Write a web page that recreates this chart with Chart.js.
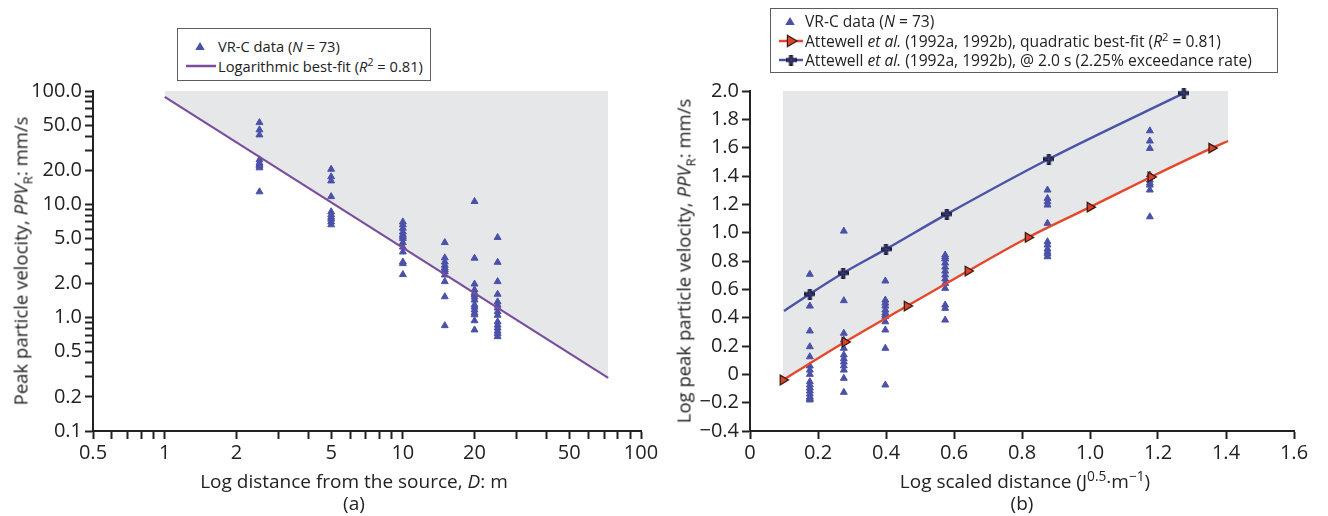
<!DOCTYPE html>
<html>
<head>
<meta charset="utf-8">
<script src="https://cdn.jsdelivr.net/npm/chart.js@4.4.1/dist/chart.umd.min.js"></script>
<style>
  html, body { margin: 0; padding: 0; background: #fff; }
  #wrap { position: relative; width: 1328px; height: 516px; font-family: 'Open Sans', sans-serif; color: #222; }
  .pane { position: absolute; top: 0; width: 664px; height: 516px; }
  .txt { position: absolute; white-space: nowrap; transform: translate(-50%, -50%); font-size: 19px; }
  .ytitle { transform: translate(-50%, -50%) rotate(-90deg); font-size: 18.5px; }
  .legend { position: absolute; box-sizing: border-box; border: 1.5px solid #5c5c5c; background: #fff; }
  .row { position: absolute; white-space: nowrap; transform: translateY(-50%); }
  .mk { position: absolute; }
  sub, sup { font-size: 0.72em; line-height: 0; }
</style>
</head>
<body>
<div id="wrap">
  <div class="pane" style="left:0"><canvas id="chartA"></canvas></div>
  <div class="pane" style="left:664px"><canvas id="chartB"></canvas></div>

  <div class="txt ytitle" style="left:20px; top:261px">Peak particle velocity, <i>PPV</i><sub>R</sub>: mm/s</div>
  <div class="txt" style="left:354px; top:481px">Log distance from the source, <i>D</i>: m</div>
  <div class="txt" style="left:354px; top:503px">(a)</div>

  <div class="txt ytitle" style="left:683px; top:261px">Log peak particle velocity, <i>PPV</i><sub>R</sub>: mm/s</div>
  <div class="txt" style="left:1025px; top:481px">Log scaled distance (J<sup>0.5</sup>·m<sup>−1</sup>)</div>
  <div class="txt" style="left:1022px; top:503px">(b)</div>

  <div class="legend" style="left:177px; top:28px; width:254px; height:53px; font-size:14.7px">
    <canvas class="mk" id="lgA1" width="34" height="16" style="left:5px; top:9px"></canvas>
    <div class="row" style="left:40px; top:17px">VR-C data (<i>N</i> = 73)</div>
    <canvas class="mk" id="lgA2" width="34" height="16" style="left:5px; top:29px"></canvas>
    <div class="row" style="left:40px; top:37px">Logarithmic best-fit (<i>R</i><sup>2</sup> = 0.81)</div>
  </div>

  <div class="legend" style="left:770px; top:8px; width:508px; height:65px; font-size:15.6px">
    <canvas class="mk" id="lgB1" width="34" height="16" style="left:2px; top:4px"></canvas>
    <div class="row" style="left:34px; top:12px">VR-C data (<i>N</i> = 73)</div>
    <canvas class="mk" id="lgB2" width="34" height="16" style="left:2px; top:24px"></canvas>
    <div class="row" style="left:34px; top:32px">Attewell <i>et al.</i> (1992a, 1992b), quadratic best-fit (<i>R</i><sup>2</sup> = 0.81)</div>
    <canvas class="mk" id="lgB3" width="34" height="16" style="left:2px; top:43px"></canvas>
    <div class="row" style="left:34px; top:51px">Attewell <i>et al.</i> (1992a, 1992b), @ 2.0 s (2.25% exceedance rate)</div>
  </div>
</div>

<script>
// (a) VR-C measurements: distance from source (m) and the PPV readings at each distance (mm/s)
const vrcDistance = [2.5, 5, 10, 15, 20, 25];
const vrcPPV = [
  [52.6, 45.4, 41.0, 24.7, 23.2, 22.5, 21.8, 21.0, 12.9],
  [20.4, 17.5, 16.1, 11.7, 8.6, 8.1, 7.7, 7.4, 7.0, 6.6],
  [7.0, 6.6, 6.15, 5.7, 5.4, 5.2, 5.0, 4.6, 4.2, 3.8, 3.1, 3.0, 2.4],
  [4.6, 3.37, 3.1, 2.9, 2.75, 2.65, 2.55, 2.38, 2.08, 1.53, 0.85],
  [10.6, 3.35, 1.98, 1.76, 1.65, 1.6, 1.52, 1.43, 1.3, 1.24, 1.17, 1.10, 1.06, 0.94, 0.78],
  [5.1, 3.08, 2.08, 1.61, 1.38, 1.29, 1.22, 1.13, 1.05, 0.92, 0.86, 0.81, 0.76, 0.72, 0.68]
];
// logarithmic best-fit end points
const fitDistance = [1, 72.8];
const fitPPV = [88.7, 0.294];

const aTickX = [0.5, 1, 2, 5, 10, 20, 50, 100];
const aTickXLabels = ['0.5', '1', '2', '5', '10', '20', '50', '100'];
const aTickY = [0.1, 0.2, 0.5, 1, 2, 5, 10, 20, 50, 100];
const aTickYLabels = ['0.1', '0.2', '0.5', '1.0', '2.0', '5.0', '10.0', '20.0', '50.0', '100.0'];
const minorSteps = [1, 2, 3, 4, 5, 6, 7, 8, 9];

// (b) log scaled distance vs log PPV
const scaledDist = [0.176, 0.276, 0.398, 0.574, 0.875, 1.176];
const logPPV = [
  [0.706, 0.482, 0.306, 0.195, 0.124, 0.059, 0.030, 0.0, -0.052, -0.075, -0.097, -0.118, -0.139, -0.160, -0.170, -0.181],
  [1.011, 0.520, 0.290, 0.242, 0.184, 0.137, 0.110, 0.087, 0.060, 0.030, -0.028, -0.127],
  [0.659, 0.524, 0.503, 0.482, 0.454, 0.433, 0.420, 0.407, 0.371, 0.313, 0.184, -0.075],
  [0.842, 0.828, 0.814, 0.786, 0.757, 0.729, 0.701, 0.673, 0.642, 0.607, 0.489, 0.466, 0.383],
  [1.301, 1.242, 1.218, 1.195, 1.066, 0.936, 0.913, 0.884, 0.863, 0.850, 0.830],
  [1.719, 1.647, 1.595, 1.407, 1.371, 1.350, 1.336, 1.301, 1.112]
];
// Attewell quadratic best-fit (last point is the curve end, no marker)
const quadX = [0.097, 0.279, 0.462, 0.641, 0.818, 1.0, 1.179, 1.358, 1.406];
const quadY = [-0.04, 0.228, 0.482, 0.729, 0.966, 1.18, 1.393, 1.597, 1.647];
// Attewell @ 2.0 s (first point is the curve start, no marker)
const exceedX = [0.1, 0.176, 0.274, 0.4, 0.579, 0.879, 1.276];
const exceedY = [0.447, 0.567, 0.715, 0.884, 1.131, 1.52, 1.985];

const bTickXLabels = ['0', '0.2', '0.4', '0.6', '0.8', '1.0', '1.2', '1.4', '1.6'];
const bTickYLabels = ['\u22120.4', '\u22120.2', '0', '0.2', '0.4', '0.6', '0.8', '1.0', '1.2', '1.4', '1.6', '1.8', '2.0'];

const DATA_BLUE = '#4b51a8';
const FIT_PURPLE = '#7a4e9c';
const SHADE = '#e6e7e9';
const RED = '#e5472b';
const LINE_BLUE = '#4a53a8';
const AXIS = '#222';
const FONT = { family: "'Open Sans', sans-serif", size: 20 };

// bold navy plus used as the marker of the 2.0 s curve
function makePlus() {
  const c = document.createElement('canvas');
  c.width = 11; c.height = 11;
  const g = c.getContext('2d');
  g.fillStyle = '#141535';
  g.fillRect(3.5, 0, 4, 11);
  g.fillRect(0, 3.5, 11, 4);
  g.fillStyle = '#3c3f7c';
  g.fillRect(4.75, 1.2, 1.5, 8.6);
  g.fillRect(1.2, 4.75, 8.6, 1.5);
  return c;
}
const plusImg = makePlus();

function drawTri(g, x, y, r, color, rot, stroke) {
  g.save();
  g.translate(x, y);
  g.rotate(rot * Math.PI / 180);
  g.beginPath();
  g.moveTo(0, -r);
  g.lineTo(r * 0.95, r * 0.6);
  g.lineTo(-r * 0.95, r * 0.6);
  g.closePath();
  g.fillStyle = color;
  g.fill();
  if (stroke) { g.strokeStyle = stroke; g.lineWidth = 1.2; g.stroke(); }
  g.restore();
}

// legend swatches
(function () {
  let g = document.getElementById('lgA1').getContext('2d');
  drawTri(g, 17, 9, 5, DATA_BLUE, 0);
  g = document.getElementById('lgA2').getContext('2d');
  g.strokeStyle = FIT_PURPLE; g.lineWidth = 2.5;
  g.beginPath(); g.moveTo(3, 8); g.lineTo(33, 8); g.stroke();
  g = document.getElementById('lgB1').getContext('2d');
  drawTri(g, 17, 9, 5, DATA_BLUE, 0);
  g = document.getElementById('lgB2').getContext('2d');
  g.strokeStyle = RED; g.lineWidth = 2.5;
  g.beginPath(); g.moveTo(6, 8); g.lineTo(30, 8); g.stroke();
  drawTri(g, 18, 8, 6, '#d9432a', 90, '#3b1a12');
  g = document.getElementById('lgB3').getContext('2d');
  g.strokeStyle = LINE_BLUE; g.lineWidth = 2.5;
  g.beginPath(); g.moveTo(6, 8); g.lineTo(30, 8); g.stroke();
  g.drawImage(plusImg, 12.5, 2.5);
})();

function logTicks(min, max) {
  const out = [];
  for (let e = -2; e <= 3; e++) {
    for (const m of minorSteps) {
      const v = +(m * Math.pow(10, e)).toPrecision(6);
      if (v >= min - 1e-9 && v <= max + 1e-9) out.push({ value: v });
    }
  }
  return out;
}
function majorLabel(v, majors, labels) {
  const i = majors.findIndex(m => Math.abs(v - m) / m < 1e-6);
  return i < 0 ? '' : labels[i];
}

const vrcPoints = vrcDistance.flatMap((d, i) => vrcPPV[i].map(p => ({ x: d, y: p })));
const fitPoints = fitDistance.map((d, i) => ({ x: d, y: fitPPV[i] }));

const axisGrid = { drawOnChartArea: false, drawTicks: true, tickLength: 8, tickWidth: 2, tickColor: AXIS };
const axisBorder = { display: true, color: AXIS, width: 2 };

new Chart(document.getElementById('chartA'), {
  type: 'scatter',
  data: {
    datasets: [
      {
        label: 'VR-C data',
        data: vrcPoints,
        pointStyle: 'triangle',
        pointRadius: 4,
        backgroundColor: DATA_BLUE,
        borderColor: DATA_BLUE,
        borderWidth: 1,
        order: 2
      },
      {
        type: 'line',
        label: 'Logarithmic best-fit',
        data: fitPoints,
        borderColor: FIT_PURPLE,
        borderWidth: 2.2,
        backgroundColor: SHADE,
        fill: 'end',
        pointRadius: 0,
        order: 1
      }
    ]
  },
  options: {
    responsive: true,
    maintainAspectRatio: false,
    animation: false,
    layout: { padding: { left: 0, top: 91, right: 23, bottom: 0 } },
    plugins: {
      legend: { display: false },
      tooltip: { enabled: false },
      filler: { drawTime: 'beforeDatasetsDraw' }
    },
    scales: {
      x: {
        type: 'logarithmic',
        min: 0.5,
        max: 100,
        afterFit: s => { s.height = 85; },
        afterBuildTicks: s => { s.ticks = logTicks(0.5, 100); },
        ticks: {
          autoSkip: false, maxRotation: 0, padding: 2, color: AXIS, font: FONT,
          callback: v => majorLabel(v, aTickX, aTickXLabels)
        },
        grid: axisGrid,
        border: axisBorder
      },
      y: {
        type: 'logarithmic',
        min: 0.1,
        max: 100,
        afterFit: s => { s.width = 93; },
        afterBuildTicks: s => { s.ticks = logTicks(0.1, 100); },
        ticks: {
          autoSkip: false, padding: 3, color: AXIS, font: FONT,
          callback: v => majorLabel(v, aTickY, aTickYLabels)
        },
        grid: axisGrid,
        border: axisBorder
      }
    }
  }
});

const vrcLogPoints = scaledDist.flatMap((d, i) => logPPV[i].map(p => ({ x: d, y: p })));
const quadPoints = quadX.map((x, i) => ({ x, y: quadY[i] }));
const exceedPoints = exceedX.map((x, i) => ({ x, y: exceedY[i] }));

new Chart(document.getElementById('chartB'), {
  type: 'scatter',
  data: {
    datasets: [
      {
        label: 'VR-C data',
        data: vrcLogPoints,
        pointStyle: 'triangle',
        pointRadius: 4,
        backgroundColor: DATA_BLUE,
        borderColor: DATA_BLUE,
        borderWidth: 1,
        order: 3
      },
      {
        type: 'line',
        label: 'Attewell quadratic best-fit',
        data: quadPoints,
        borderColor: RED,
        borderWidth: 2.4,
        backgroundColor: SHADE,
        fill: 'end',
        cubicInterpolationMode: 'monotone',
        pointStyle: 'triangle',
        pointRotation: 90,
        pointRadius: ctx => (ctx.dataIndex === quadX.length - 1 ? 0 : 5.5),
        pointBackgroundColor: '#d9432a',
        pointBorderColor: '#3b1a12',
        pointBorderWidth: 1.3,
        order: 2
      },
      {
        type: 'line',
        label: 'Attewell @ 2.0 s',
        data: exceedPoints,
        borderColor: LINE_BLUE,
        borderWidth: 2.4,
        fill: false,
        clip: false,
        cubicInterpolationMode: 'monotone',
        pointStyle: plusImg,
        pointRadius: ctx => (ctx.dataIndex === 0 ? 0 : 6),
        order: 1
      }
    ]
  },
  options: {
    responsive: true,
    maintainAspectRatio: false,
    animation: false,
    layout: { padding: { left: 0, top: 91, right: 34, bottom: 0 } },
    plugins: {
      legend: { display: false },
      tooltip: { enabled: false },
      filler: { drawTime: 'beforeDatasetsDraw' }
    },
    scales: {
      x: {
        type: 'linear',
        min: 0,
        max: 1.6,
        afterFit: s => { s.height = 85; },
        ticks: {
          stepSize: 0.2, autoSkip: false, maxRotation: 0, padding: 2, color: AXIS, font: FONT,
          callback: (v, i) => bTickXLabels[i]
        },
        grid: axisGrid,
        border: axisBorder
      },
      y: {
        type: 'linear',
        min: -0.4,
        max: 2.0,
        afterFit: s => { s.width = 86; },
        ticks: {
          stepSize: 0.2, autoSkip: false, padding: 3, color: AXIS, font: FONT,
          callback: (v, i) => bTickYLabels[i]
        },
        grid: axisGrid,
        border: axisBorder
      }
    }
  }
});
</script>
</body>
</html>
